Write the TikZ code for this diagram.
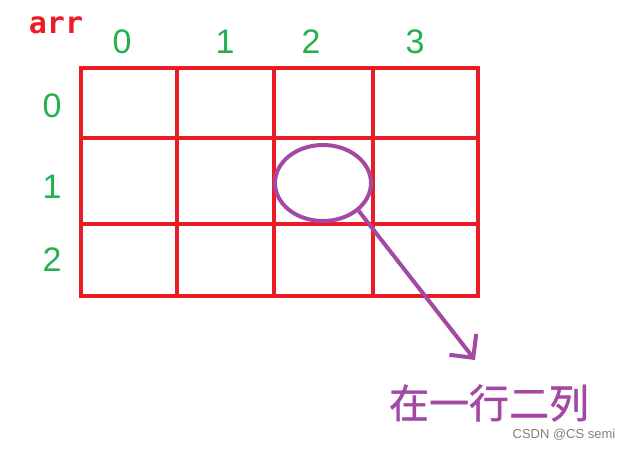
\documentclass[tikz,border=0pt]{standalone}
\usepackage{fontspec}
\setmainfont{Liberation Sans}
\newfontfamily\cjk[FakeBold=1]{Noto Sans CJK SC}
\newfontfamily\mono{DejaVu Sans Mono}
\usetikzlibrary{shapes.geometric,arrows.meta}
\definecolor{gridred}{HTML}{ED1C24}
\definecolor{idxgreen}{HTML}{22B14C}
\definecolor{markpurple}{HTML}{A349A4}

\begin{document}
\begin{tikzpicture}[x=1pt,y=-1pt,
    gridline/.style={draw=gridred, line width=4pt},
    idx/.style={text=idxgreen, font=\fontsize{34}{34}\selectfont}]
      \useasboundingbox (0,0) rectangle (627,449);

      % the array
      \draw[gridline] (81,68) rectangle (478,296);
      \foreach \x in {177,274,373}
        \draw[gridline] (\x,68) -- (\x,296);
      \foreach \y in {138,224}
        \draw[gridline] (81,\y) -- (478,\y);

      \node[text=gridred, font=\mono\bfseries\fontsize{30}{30}\selectfont] (A) at (56,25) {arr};

      \node[idx] (C0) at (122,42) {0};
      \node[idx] (C1) at (225,42) {1};
      \node[idx] (C2) at (311,42) {2};
      \node[idx] (C3) at (415,42) {3};
      \node[idx] (R0) at (52,106) {0};
      \node[idx] (R1) at (52,187) {1};
      \node[idx] (R2) at (52,260) {2};

      % the marked cell
      \node[ellipse, draw=markpurple, line width=4pt, minimum width=96pt, minimum height=76pt] (E) at (323,183) {};
      \coordinate (tip) at (475,360);
      \path (E.-38) edge[draw=markpurple, line width=4pt, -{Straight Barb[length=17pt,width=34pt]}] (tip);

      \node[text=markpurple, font=\cjk\fontsize{40}{40}\selectfont] (L) at (489,403) {在一行二列};
      \node[text=gray, font=\fontsize{13}{13}\selectfont] (W) at (564,435) {CSDN @CS semi};
    \end{tikzpicture}
\end{document}
